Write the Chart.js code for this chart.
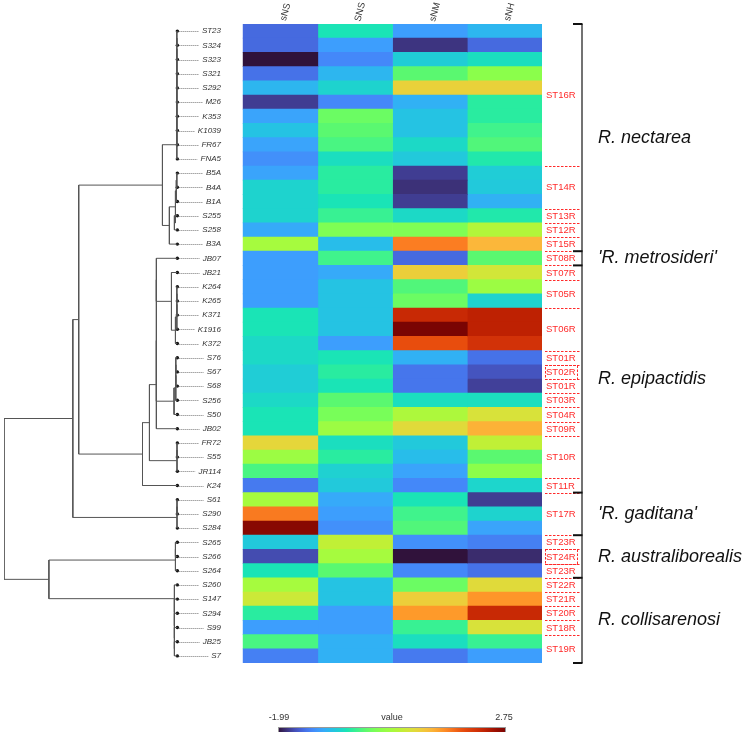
<!DOCTYPE html>
<html>
<head>
<meta charset="utf-8">
<script src="https://cdn.jsdelivr.net/npm/chart.js@4.4.1/dist/chart.umd.min.js"></script>
<style>
  html, body { margin: 0; padding: 0; background: #fff; }
  #wrap { width: 749px; height: 732px; }
</style>
</head>
<body>
<div id="wrap"><canvas id="chart" width="749" height="732"></canvas></div>
<script>
// rows of the heatmap, top to bottom (same order as the tree leaves)
const rows = ['ST23', 'S324', 'S323', 'S321', 'S292', 'M26', 'K353', 'K1039', 'FR67', 'FNA5',
  'B5A', 'B4A', 'B1A', 'S255', 'S258', 'B3A', 'JB07', 'JB21', 'K264', 'K265',
  'K371', 'K1916', 'K372', 'S76', 'S67', 'S68', 'S256', 'S50', 'JB02', 'FR72',
  'S55', 'JR114', 'K24', 'S61', 'S290', 'S284', 'S265', 'S266', 'S264', 'S260',
  'S147', 'S294', 'S99', 'JB25', 'S7'];

const columns = ['sNS', 'SNS', 'sNM', 'sNH'];

const vals_sNS = [-1.47, -1.47, -1.99, -1.42, -0.95, -1.75, -1.09, -0.85, -1.09, -1.23,
  -1.09, -0.71, -0.71, -0.71, -1.04, 0.38, -1.14, -1.14, -1.14, -1.14,
  -0.57, -0.57, -0.66, -0.66, -0.76, -0.76, -0.66, -0.57, -0.57, 0.90,
  0.29, -0.28, -1.37, 0.38, 1.59, 2.66, -0.80, -1.66, -0.57, 0.38,
  0.66, -0.47, -1.14, -0.28, -1.33];
const vals_SNS = [-0.57, -1.14, -1.28, -0.95, -0.71, -1.28, -0.09, -0.19, -0.28, -0.62,
  -0.47, -0.47, -0.57, -0.38, 0.05, -0.90, -0.33, -1.04, -0.85, -0.85,
  -0.85, -0.85, -1.14, -0.57, -0.47, -0.57, -0.19, 0.00, 0.29, -0.62,
  -0.47, -0.73, -0.80, -1.04, -1.14, -1.23, 0.57, 0.38, -0.19, -0.85,
  -0.85, -1.14, -1.14, -0.99, -0.99];
const vals_sNM = [-1.14, -1.80, -0.76, -0.19, 0.95, -0.99, -0.85, -0.85, -0.66, -0.80,
  -1.75, -1.82, -1.75, -0.66, 0.05, 1.57, -1.47, 0.98, -0.24, -0.09,
  2.23, 2.75, 1.85, -0.99, -1.40, -1.40, -0.62, 0.43, 0.85, -0.80,
  -0.90, -1.09, -1.28, -0.57, -0.33, -0.24, -1.23, -1.99, -1.28, -0.09,
  0.98, 1.40, -0.38, -0.62, -1.37];
const vals_sNH = [-0.95, -1.47, -0.62, 0.14, 0.95, -0.47, -0.47, -0.33, -0.24, -0.52,
  -0.76, -0.80, -0.99, -0.52, 0.47, 1.19, -0.19, 0.71, 0.29, -0.71,
  2.32, 2.32, 2.13, -1.42, -1.61, -1.73, -0.62, 0.76, 1.23, 0.57,
  -0.19, 0.14, -0.69, -1.75, -0.71, -1.09, -1.33, -1.85, -1.42, 0.85,
  1.42, 2.23, 0.76, -0.38, -1.14];

const colorMin = -1.99;
const colorMax = 2.75;

// sequence types on the right (first row, last row, dashed box or not)
const stLabels = ['ST16R', 'ST14R', 'ST13R', 'ST12R', 'ST15R', 'ST08R', 'ST07R', 'ST05R', 'ST06R',
  'ST01R', 'ST02R', 'ST01R', 'ST03R', 'ST04R', 'ST09R', 'ST10R', 'ST11R', 'ST17R',
  'ST23R', 'ST24R', 'ST23R', 'ST22R', 'ST21R', 'ST20R', 'ST18R', 'ST19R'];
const stFrom = [0, 10, 13, 14, 15, 16, 17, 18, 20, 23, 24, 25, 26, 27, 28, 29, 32, 33, 36, 37, 38, 39, 40, 41, 42, 43];
const stTo = [9, 12, 13, 14, 15, 16, 17, 19, 22, 23, 24, 25, 26, 27, 28, 31, 32, 35, 36, 37, 38, 39, 40, 41, 42, 44];
const stBoxed = ['ST02R', 'ST24R'];

const species = ['R. nectarea', "'R. metrosideri'", 'R. epipactidis', "'R. gaditana'", 'R. australiborealis', 'R. collisarenosi'];
const speciesFrom = [0, 16, 17, 33, 36, 39];
const speciesTo = [15, 16, 32, 35, 38, 44];

// tree: [depth, children...], leaves are row names (leaf depth = 1)
const tree = [0,
  [0.397,
    [0.431,
      [0.914,
        [0.997, [0.997, [0.997, [0.997, [0.997, [0.997, [0.997, [0.997, [0.997, 'ST23', 'S324'], 'S323'], 'S321'], 'S292'], 'M26'], 'K353'], 'K1039'], 'FR67'], 'FNA5'],
        [0.954,
          [0.989, [0.994, [0.997, 'B5A', 'B4A'], 'B1A'], [0.983, 'S255', 'S258']],
          'B3A']],
      [0.799,
        [0.839,
          [0.879, [0.879, [0.879, 'JB07',
              [0.966, 'JB21', [0.989, [0.997, [0.997, [0.997, 'K264', 'K265'], 'K371'], 'K1916'], 'K372']]],
            [0.981, [0.991, [0.991, [0.991, 'S76', 'S67'], 'S68'], 'S256'], 'S50']],
            'JB02'],
          [0.998, [0.998, 'FR72', 'S55'], 'JR114']],
        'K24']],
    [0.998, [0.998, 'S61', 'S290'], 'S284']],
  [0.259,
    [0.989, [0.989, 'S265', 'S266'], 'S264'],
    [0.983, 'S260', [0.983, 'S147', [0.983, 'S294', [0.983, 'S99', [0.983, 'JB25', 'S7']]]]]]
];

// turbo colour map
const turboStops = [
  [0, 48, 18, 59], [0.03, 58, 44, 110], [0.05, 64, 60, 145], [0.075, 69, 80, 185],
  [0.10, 70, 98, 215], [0.125, 70, 118, 236], [0.15, 68, 136, 249], [0.18, 61, 158, 253],
  [0.20, 54, 170, 249], [0.23, 40, 189, 234], [0.25, 34, 200, 220], [0.275, 29, 214, 203],
  [0.30, 26, 228, 182], [0.32, 40, 236, 160], [0.35, 64, 243, 140], [0.38, 90, 248, 112],
  [0.41, 114, 254, 94], [0.45, 139, 254, 75], [0.50, 166, 251, 62], [0.54, 192, 240, 54],
  [0.58, 216, 226, 58], [0.61, 229, 214, 58], [0.64, 242, 199, 58], [0.67, 251, 184, 58],
  [0.715, 254, 154, 42], [0.75, 251, 126, 34], [0.81, 232, 77, 13], [0.87, 210, 50, 8],
  [0.91, 190, 33, 2], [0.95, 160, 16, 1], [1, 122, 4, 3]
];
function turbo(t) {
  t = Math.max(0, Math.min(1, t));
  for (let i = 1; i < turboStops.length; i++) {
    const a = turboStops[i - 1], b = turboStops[i];
    if (t <= b[0]) {
      const f = (t - a[0]) / (b[0] - a[0]);
      const c = [1, 2, 3].map(k => Math.round(a[k] + (b[k] - a[k]) * f));
      return `rgb(${c[0]},${c[1]},${c[2]})`;
    }
  }
  return 'rgb(122,4,3)';
}
const toColor = v => turbo((v - colorMin) / (colorMax - colorMin));

// layout
const W = 749, H = 732;
const heatLeft = 242, heatRight = 542, heatTop = 24, heatBottom = 663;
const treeLeft = 2, leafX = 176;
const colW = (heatRight - heatLeft) / columns.length;

// tree -> line segments (null points break the line)
const treeSegs = [];
function walk(node) {
  if (typeof node === 'string') return { x: 1, y: rows.indexOf(node) };
  const [d, ...kids] = node;
  const pts = kids.map(walk);
  const ys = pts.map(p => p.y);
  treeSegs.push({ x: d, y: Math.min(...ys) }, { x: d, y: Math.max(...ys) }, { x: null, y: null });
  pts.forEach(p => treeSegs.push({ x: d, y: p.y }, { x: p.x, y: p.y }, { x: null, y: null }));
  return { x: d, y: ys.reduce((a, b) => a + b, 0) / ys.length };
}
walk(tree);

const colValues = [vals_sNS, vals_SNS, vals_sNM, vals_sNH];

const barSets = columns.map((c, ci) => ({
  type: 'bar',
  label: c,
  xAxisID: 'x',
  yAxisID: 'y',
  data: rows.map(() => [ci, ci + 1]),
  backgroundColor: colValues[ci].map(toColor),
  borderWidth: 0,
  barPercentage: 1,
  categoryPercentage: 1,
  grouped: false
}));

const FONT = '"Liberation Sans", Arial, sans-serif';

const decorations = {
  id: 'decorations',
  afterDatasetsDraw(chart) {
    const ctx = chart.ctx;
    const ys = chart.scales.y, xs = chart.scales.x, xt = chart.scales.xt;
    const band = ys.getPixelForValue(1) - ys.getPixelForValue(0);
    const rowY = i => ys.getPixelForValue(i);
    const rowTop = i => rowY(i) - band / 2;
    const rowBot = i => rowY(i) + band / 2;
    const top = rowTop(0), bottom = rowBot(rows.length - 1);
    const leafPx = xt.getPixelForValue(1);

    ctx.save();
    // column headers
    ctx.fillStyle = '#333';
    ctx.font = '9.5px ' + FONT;
    ctx.textAlign = 'center';
    ctx.textBaseline = 'middle';
    columns.forEach((c, ci) => {
      const cx = xs.getPixelForValue(ci + 0.5);
      ctx.save();
      ctx.translate(cx + 5, top - 12);
      ctx.rotate(-75 * Math.PI / 180);
      ctx.fillText(c, 0, 0);
      ctx.restore();
    });

    // row labels with dotted leaders
    ctx.font = 'italic 8px ' + FONT;
    ctx.textAlign = 'right';
    const labelRight = 221;
    rows.forEach((r, i) => {
      const y = rowY(i);
      ctx.fillStyle = '#333';
      ctx.fillText(r, labelRight, y);
      const w = ctx.measureText(r).width;
      ctx.strokeStyle = '#777';
      ctx.lineWidth = 1;
      ctx.setLineDash([1, 1]);
      ctx.beginPath();
      ctx.moveTo(leafPx + 2, Math.round(y) + 0.5);
      ctx.lineTo(labelRight - w - 3, Math.round(y) + 0.5);
      ctx.stroke();
    });
    ctx.setLineDash([]);

    // ST labels, separators and boxes
    const stX = heatRight + 4;
    ctx.font = '9.5px ' + FONT;
    ctx.textAlign = 'left';
    ctx.fillStyle = '#ff2b2b';
    ctx.strokeStyle = '#ff2b2b';
    ctx.lineWidth = 1;
    ctx.setLineDash([2.5, 1.5]);
    stLabels.forEach((s, g) => {
      const y0 = rowTop(stFrom[g]), y1 = rowBot(stTo[g]);
      ctx.fillText(s, stX, (y0 + y1) / 2 + 0.5);
      if (g > 0) {
        ctx.beginPath();
        ctx.moveTo(heatRight + 3, Math.round(y0) + 0.5);
        ctx.lineTo(heatRight + 38, Math.round(y0) + 0.5);
        ctx.stroke();
      }
      if (stBoxed.includes(s)) {
        ctx.strokeRect(heatRight + 3.5, Math.round(y0) + 0.5, 32, Math.round(y1) - Math.round(y0));
      }
    });
    ctx.setLineDash([]);

    // bracket
    const bx = heatRight + 40;
    ctx.strokeStyle = '#444';
    ctx.lineWidth = 1.5;
    ctx.beginPath();
    ctx.moveTo(bx, top);
    ctx.lineTo(bx, bottom);
    ctx.stroke();
    ctx.strokeStyle = '#111';
    ctx.lineWidth = 2;
    const ticks = [top, bottom].concat(speciesFrom.slice(1).map(rowTop));
    ticks.forEach(t => {
      ctx.beginPath();
      ctx.moveTo(bx - 9, t);
      ctx.lineTo(bx + 0.5, t);
      ctx.stroke();
    });

    // species names
    ctx.fillStyle = '#111';
    ctx.font = 'italic 18px ' + FONT;
    ctx.textAlign = 'left';
    species.forEach((s, k) => {
      const y = (rowTop(speciesFrom[k]) + rowBot(speciesTo[k])) / 2;
      ctx.fillText(s, heatRight + 56, y);
    });

    // colour bar
    const cbL = 278, cbR = 506, cbT = 727;
    const grad = ctx.createLinearGradient(cbL, 0, cbR, 0);
    for (let i = 0; i <= 40; i++) grad.addColorStop(i / 40, turbo(i / 40));
    ctx.fillStyle = grad;
    ctx.fillRect(cbL, cbT, cbR - cbL, 6);
    ctx.strokeStyle = '#999';
    ctx.lineWidth = 1;
    ctx.strokeRect(cbL + 0.5, cbT + 0.5, cbR - cbL - 1, 6);
    ctx.fillStyle = '#333';
    ctx.font = '9px ' + FONT;
    ctx.textAlign = 'center';
    ctx.fillText(colorMin.toFixed(2), cbL + 1, 718);
    ctx.fillText('value', (cbL + cbR) / 2, 718);
    ctx.fillText(colorMax.toFixed(2), cbR - 2, 718);
    ctx.restore();
  }
};

new Chart(document.getElementById('chart'), {
  type: 'bar',
  data: {
    labels: rows,
    datasets: barSets.concat([
      {
        type: 'line',
        data: treeSegs,
        xAxisID: 'xt',
        yAxisID: 'yt',
        borderColor: '#555',
        borderWidth: 1,
        pointRadius: 0,
        spanGaps: false,
        fill: false,
        tension: 0
      },
      {
        type: 'scatter',
        data: rows.map((r, i) => ({ x: 1, y: i })),
        xAxisID: 'xt',
        yAxisID: 'yt',
        pointRadius: 1.7,
        pointBackgroundColor: '#111',
        pointBorderWidth: 0,
        showLine: false
      }
    ])
  },
  options: {
    indexAxis: 'y',
    responsive: false,
    animation: false,
    events: [],
    layout: {
      padding: { left: treeLeft, right: W - heatRight, top: heatTop, bottom: H - heatBottom }
    },
    plugins: { legend: { display: false }, tooltip: { enabled: false } },
    scales: {
      x: { type: 'linear', min: -(heatLeft - treeLeft) / colW, max: columns.length, offset: false, display: false },
      y: { type: 'category', offset: true, display: false, grid: { display: false } },
      xt: { type: 'linear', axis: 'x', min: 0, max: (heatRight - treeLeft) / (leafX - treeLeft), offset: false, display: false },
      yt: { type: 'linear', axis: 'y', min: -0.5, max: rows.length - 0.5, reverse: true, offset: false, display: false }
    }
  },
  plugins: [decorations]
});
</script>
</body>
</html>
